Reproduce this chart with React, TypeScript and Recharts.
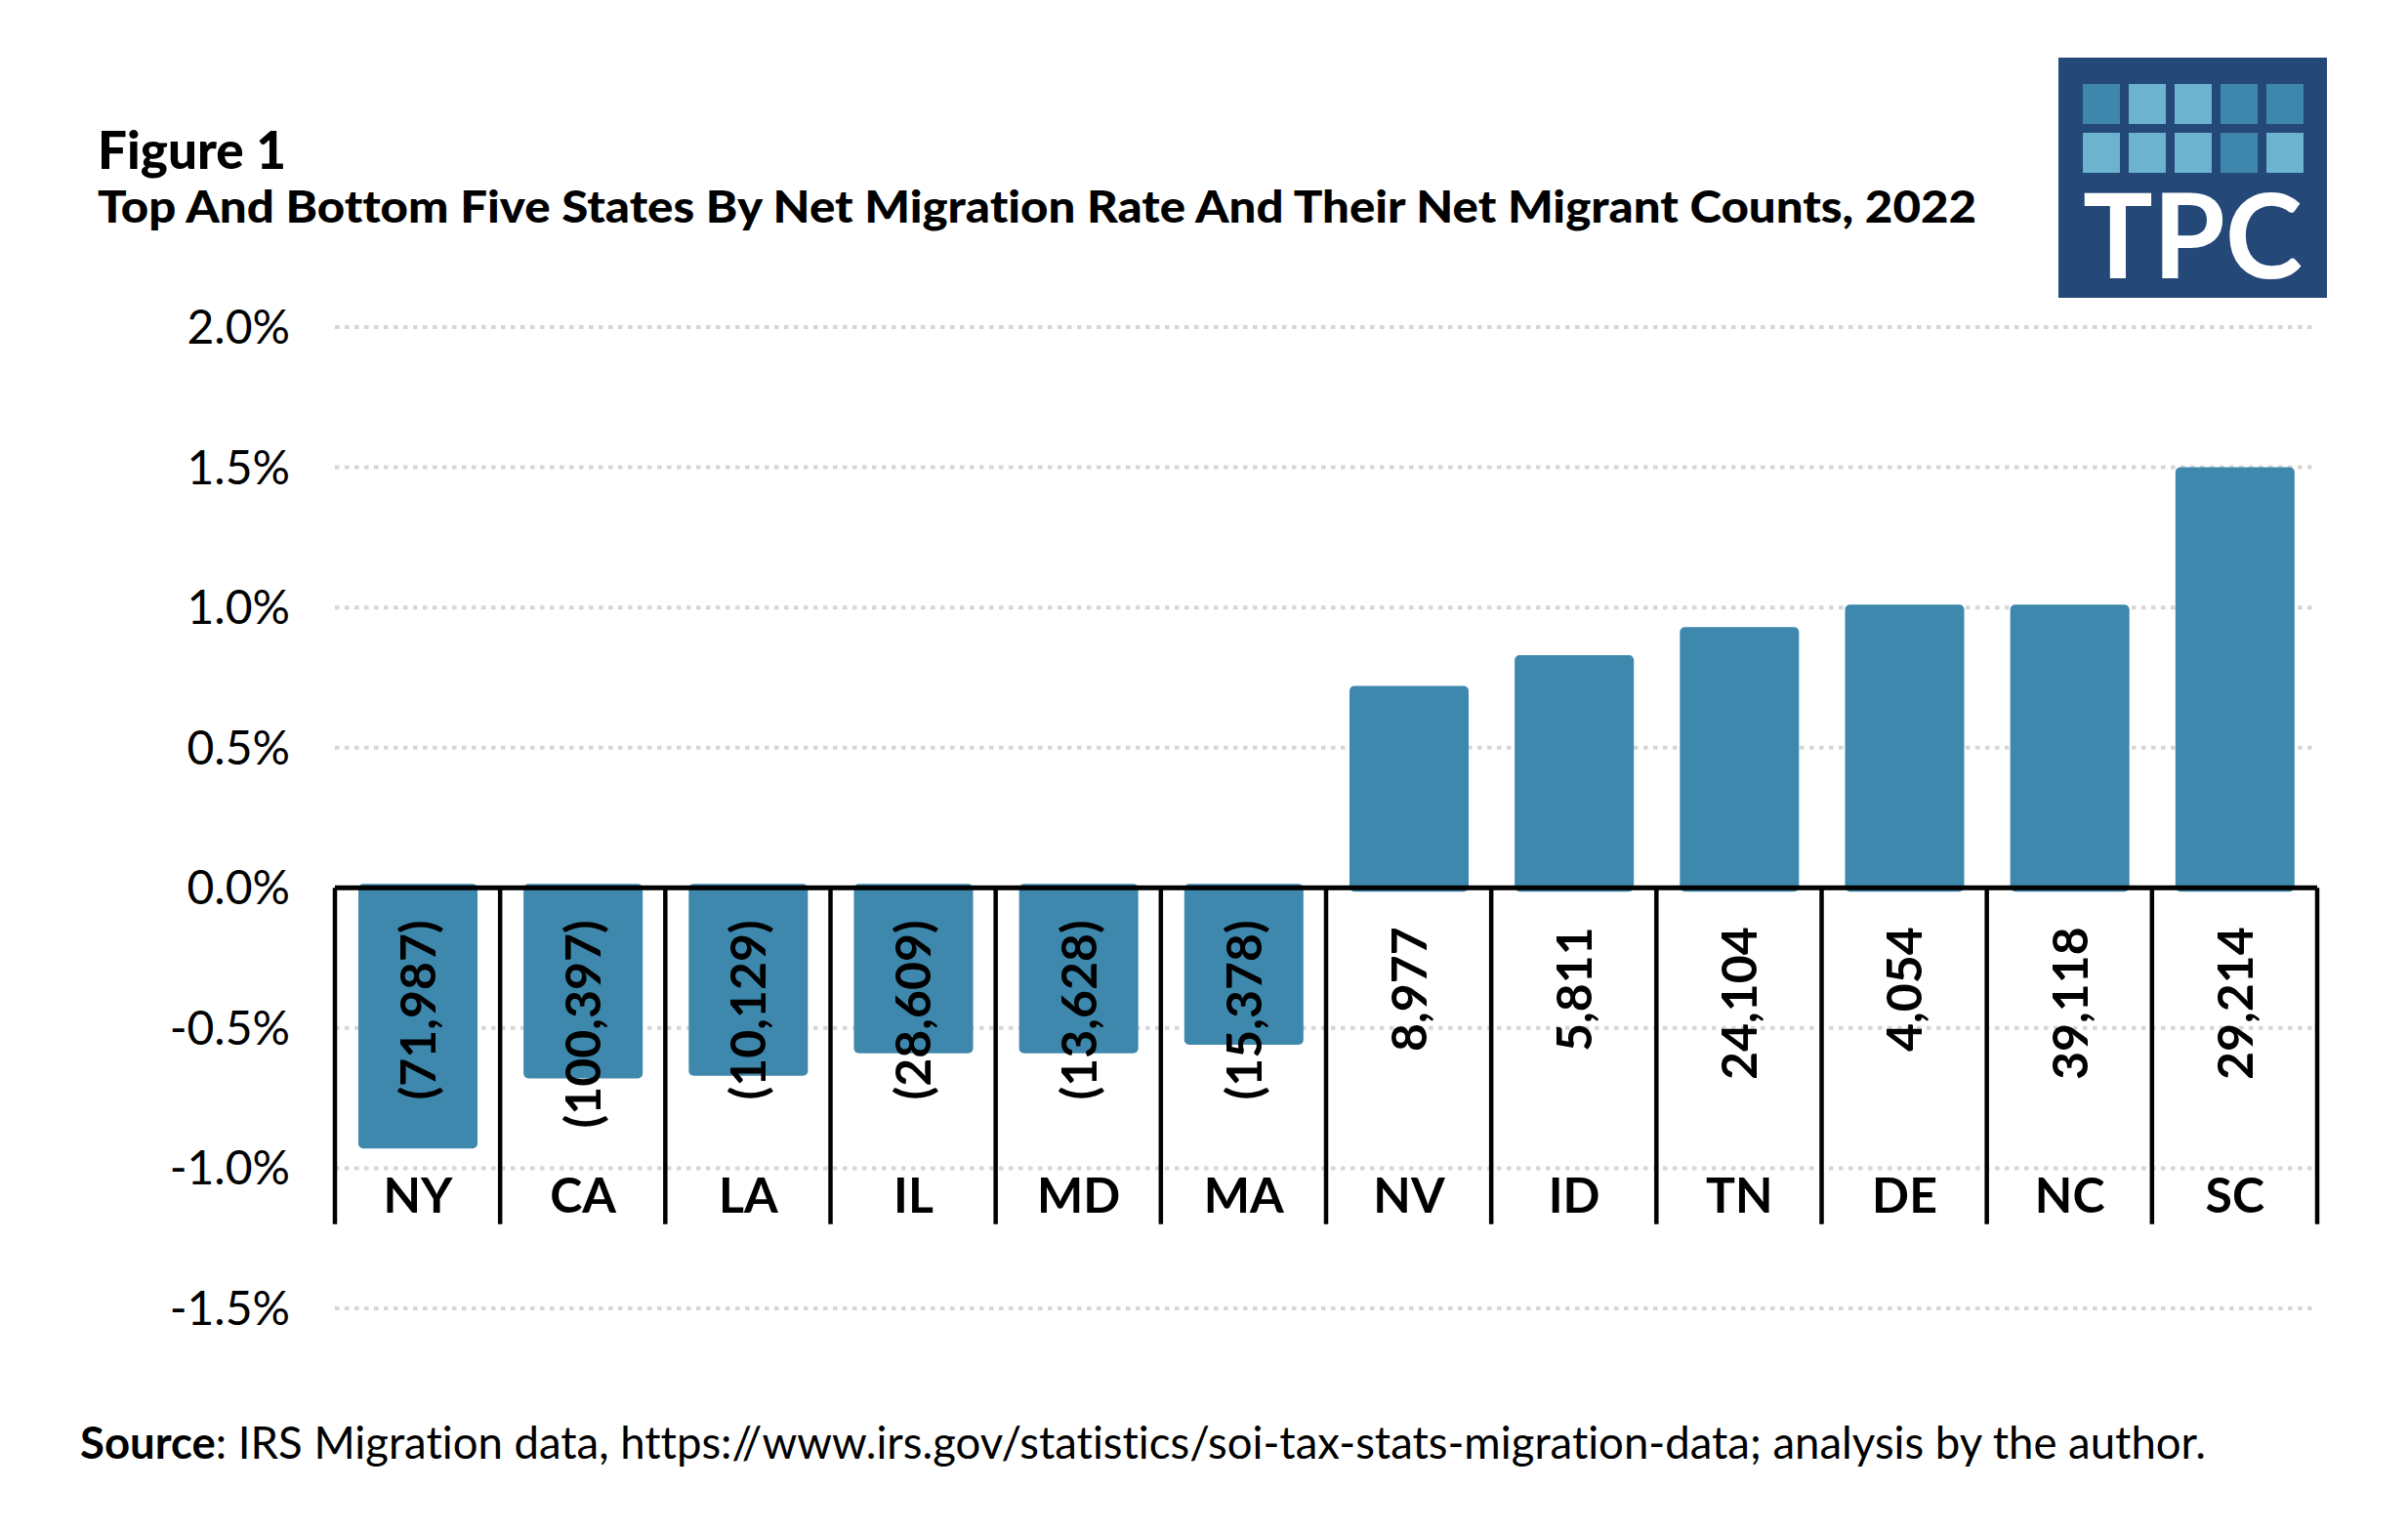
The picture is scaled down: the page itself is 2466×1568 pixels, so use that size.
import React from "react";
import {
  BarChart,
  Bar,
  XAxis,
  YAxis,
  CartesianGrid,
  ReferenceLine,
  LabelList,
  Rectangle,
} from "recharts";

// states ranked by net migration rate (bottom five + MA, then top six)
const STATES = ["NY", "CA", "LA", "IL", "MD", "MA", "NV", "ID", "TN", "DE", "NC", "SC"];
// net migration rate, % of population
const RATES = [-0.93, -0.68, -0.67, -0.59, -0.59, -0.56, 0.72, 0.83, 0.93, 1.01, 1.01, 1.5];
// net migrant counts
const COUNTS = [-71987, -100397, -10129, -28609, -13628, -15378, 8977, 5811, 24104, 4054, 39118, 29214];
const Y_TICKS = [-1.5, -1, -0.5, 0, 0.5, 1, 1.5, 2];
const SEPARATOR_DEPTH = -1.2;

const TITLE = "Figure 1";
const SUBTITLE = "Top And Bottom Five States By Net Migration Rate And Their Net Migrant Counts, 2022";
const SOURCE_LABEL = "Source";
const SOURCE_TEXT =
  ": IRS Migration data, https://www.irs.gov/statistics/soi-tax-stats-migration-data; analysis by the author.";

// logo tiles: true = darker tile
const LOGO_TILES = [
  [true, false, false, true, true],
  [false, false, false, true, false],
];

const W = 2466;
const H = 1568;
const BAR_COLOR = "#3d88ac";
const FONT = "Lato, 'Open Sans', sans-serif";
const NO_LIGA = { fontVariantLigatures: "none" as const };

const data = STATES.map((state, i) => ({ state, rate: RATES[i], count: COUNTS[i] }));

const fmtCount = (n: number) =>
  n < 0 ? `(${Math.abs(n).toLocaleString("en-US")})` : n.toLocaleString("en-US");

// find bar centre and where it meets the zero line
const barEdges = (props: any, positive: boolean) => {
  const vb = props.viewBox ?? props;
  const top = Math.min(vb.y, vb.y + vb.height);
  const bottom = Math.max(vb.y, vb.y + vb.height);
  return { cx: vb.x + vb.width / 2, zeroY: positive ? bottom : top };
};

const RateBar = (props: any) => {
  const { x, y, width, height, payload } = props;
  const top = Math.min(y, y + height);
  const bottom = Math.max(y, y + height);
  const up = payload.rate >= 0;
  // bars run a few px past the baseline, under the axis rule
  const y0 = up ? top : top - 4;
  return (
    <Rectangle x={x} y={y0} width={width} height={bottom - top + 4} radius={5} fill={BAR_COLOR} />
  );
};

const CountLabel = (props: any) => {
  const { value } = props;
  const { cx, zeroY } = barEdges(props, value >= 0);
  const y = zeroY + (value >= 0 ? 40 : 33);
  return (
    <text
      x={cx}
      y={y}
      dy="0.36em"
      transform={`rotate(-90, ${cx}, ${y})`}
      textAnchor="end"
      fontSize={50}
      fontWeight={700}
      fill="#000"
      fontFamily={FONT}
    >
      {fmtCount(value)}
    </text>
  );
};

const StateLabel = (props: any) => {
  const { value } = props;
  const idx = STATES.indexOf(value);
  const { cx, zeroY } = barEdges(props, RATES[idx] >= 0);
  return (
    <text
      x={cx}
      y={zeroY + 333}
      textAnchor="middle"
      fontSize={50}
      fontWeight={700}
      fill="#000"
      fontFamily={FONT}
    >
      {value}
    </text>
  );
};

const Logo = () => (
  <g transform="translate(2108, 59)">
    <rect x={0} y={0} width={275} height={246} fill="#244878" />
    {LOGO_TILES.map((row, r) =>
      row.map((dark, c) => (
        <rect
          key={`${r}-${c}`}
          x={25 + c * 47}
          y={27 + r * 50}
          width={38}
          height={41}
          fill={dark ? "#3e86ab" : "#6bb3cf"}
        />
      ))
    )}
    <text
      x={25}
      y={226}
      fontSize={120}
      fontWeight={700}
      fill="#fff"
      fontFamily={FONT}
      textLength={225}
      lengthAdjust="spacingAndGlyphs"
    >
      TPC
    </text>
  </g>
);

export default function App() {
  return (
    <div
      style={{
        position: "absolute",
        left: 0,
        top: 0,
        width: W,
        height: H,
        background: "#fff",
        fontFamily: FONT,
      }}
    >
      <BarChart
        width={W}
        height={H}
        data={data}
        margin={{ top: 335, right: 93, bottom: 228, left: 0 }}
      >
        <CartesianGrid
          vertical={false}
          stroke="#d6d6d6"
          strokeWidth={4}
          strokeDasharray="4.5 5.5"
        />
        <XAxis dataKey="state" hide />
        <YAxis
          type="number"
          domain={[-1.5, 2]}
          ticks={Y_TICKS}
          interval={0}
          width={343}
          axisLine={false}
          tickLine={false}
          tickSize={0}
          tickMargin={46}
          tickFormatter={(v: number) => `${v.toFixed(1)}%`}
          tick={{ fill: "#000", fontSize: 48, fontFamily: FONT }}
        />
        <Bar dataKey="rate" barSize={122} shape={RateBar} isAnimationActive={false}>
          <LabelList dataKey="count" content={CountLabel} />
          <LabelList dataKey="state" content={StateLabel} />
        </Bar>
        {STATES.map((s) => (
          <ReferenceLine
            key={s}
            segment={[
              { x: s, y: 0 },
              { x: s, y: SEPARATOR_DEPTH },
            ]}
            position="start"
            stroke="#000"
            strokeWidth={4.5}
          />
        ))}
        <ReferenceLine
          segment={[
            { x: STATES[STATES.length - 1], y: 0 },
            { x: STATES[STATES.length - 1], y: SEPARATOR_DEPTH },
          ]}
          position="end"
          stroke="#000"
          strokeWidth={4.5}
        />
        <ReferenceLine y={0} stroke="#000" strokeWidth={5} />
      </BarChart>
      <svg
        width={W}
        height={H}
        style={{ position: "absolute", left: 0, top: 0, pointerEvents: "none" }}
      >
        <text x={100} y={173} fontSize={53} fontWeight={900} fill="#000" fontFamily={FONT}>
          {TITLE}
        </text>
        <text
          x={100}
          y={228}
          fontSize={46}
          fontWeight={900}
          fill="#000"
          fontFamily={FONT}
          style={NO_LIGA}
          textLength={1924}
          lengthAdjust="spacingAndGlyphs"
        >
          {SUBTITLE}
        </text>
        <text x={82} y={1494} fontSize={45.5} fill="#000" fontFamily={FONT} style={NO_LIGA}>
          <tspan fontWeight={700}>{SOURCE_LABEL}</tspan>
          <tspan>{SOURCE_TEXT}</tspan>
        </text>
        <Logo />
      </svg>
    </div>
  );
}
